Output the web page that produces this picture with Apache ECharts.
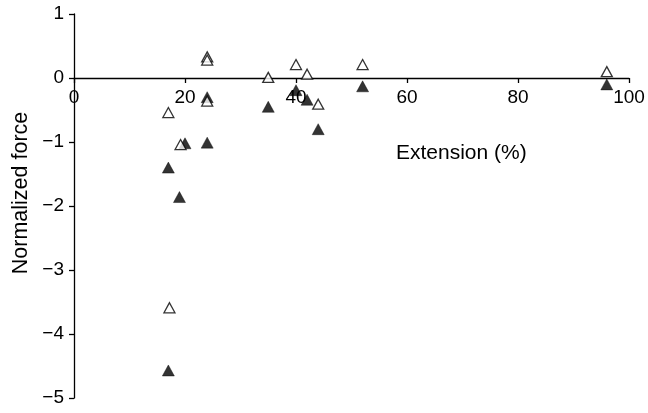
<!DOCTYPE html>
<html>
<head>
<meta charset="utf-8">
<script src="https://cdn.jsdelivr.net/npm/echarts@6/dist/echarts.min.js"></script>
<style>
  html, body { margin: 0; padding: 0; background: #fff; }
  #chart { width: 648px; height: 413px; }
</style>
</head>
<body>
<div id="chart"></div>
<script>
// Extension (%) and normalized force for each specimen
const openExtension   = [17, 17.2, 19.2, 24, 24, 24, 35, 40, 42, 44, 52, 96];
const openForce       = [-0.54, -3.59, -1.04, 0.33, 0.28, -0.36, 0.01, 0.21, 0.06, -0.41, 0.21, 0.1];
const filledExtension = [17, 17, 19, 20, 24, 24, 35, 40, 42, 44, 52, 96];
const filledForce     = [-1.4, -4.57, -1.86, -1.02, -0.3, -1.01, -0.45, -0.19, -0.34, -0.8, -0.13, -0.1];

const xTicks = [0, 20, 40, 60, 80, 100];
const yTicks = [-5, -4, -3, -2, -1, 0, 1];

const FONT = '"Liberation Sans", Arial, Helvetica, sans-serif';

const GRID = { left: 74, right: 19, top: 14, bottom: 15 };
const H = 413;

function pairs(xs, ys) { return xs.map((x, i) => [x, ys[i]]); }

const yMin = yTicks[0], yMax = yTicks[yTicks.length - 1];
// distance from the grid's bottom edge up to the y = 0 line
const zeroLift = (H - GRID.top - GRID.bottom) * (0 - yMin) / (yMax - yMin);

const chart = echarts.init(document.getElementById('chart'), null, { renderer: 'canvas' });
chart.setOption({
  animation: false,
  backgroundColor: '#fff',
  grid: Object.assign({ containLabel: false, outerBoundsMode: 'none' }, GRID),
  xAxis: {
    type: 'value',
    position: 'bottom',
    offset: -zeroLift,
    min: xTicks[0], max: xTicks[xTicks.length - 1], interval: 20,
    axisLine: { onZero: false, lineStyle: { color: '#000', width: 1.3 } },
    axisTick: { show: true, length: 5, lineStyle: { color: '#000', width: 1.3 } },
    axisLabel: { color: '#000', fontSize: 19, fontFamily: FONT, margin: 10 },
    splitLine: { show: false }
  },
  yAxis: {
    type: 'value',
    min: yMin, max: yMax, interval: 1,
    axisLine: { onZero: false, lineStyle: { color: '#000', width: 1.3 } },
    axisTick: { show: true, length: 5, lineStyle: { color: '#000', width: 1.3 } },
    axisLabel: {
      color: '#000', fontSize: 19, fontFamily: FONT, margin: 10,
      formatter: v => String(v).replace('-', '\u2212')
    },
    splitLine: { show: false }
  },
  graphic: [
    {
      type: 'text',
      left: 396, top: 143,
      style: { text: 'Extension (%)', fill: '#000', font: '21px ' + FONT }
    },
    {
      type: 'text',
      x: 21, y: 193,
      rotation: Math.PI / 2,
      style: {
        text: 'Normalized force', fill: '#000', font: '21.5px ' + FONT,
        align: 'center', verticalAlign: 'middle'
      }
    }
  ],
  series: [
    {
      type: 'scatter',
      data: pairs(filledExtension, filledForce),
      symbol: 'triangle',
      symbolSize: [12, 11],
      itemStyle: { color: '#000', borderColor: '#000', borderWidth: 0.5 },
      z: 3
    },
    {
      type: 'scatter',
      data: pairs(openExtension, openForce),
      symbol: 'triangle',
      symbolSize: [11, 10],
      itemStyle: { color: '#fff', borderColor: '#000', borderWidth: 1.3 },
      z: 4
    }
  ]
});
</script>
</body>
</html>
